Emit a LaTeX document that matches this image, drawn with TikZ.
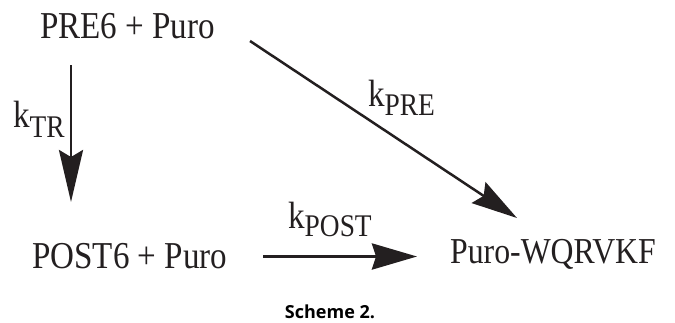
\documentclass[tikz,border=0pt]{standalone}
\usepackage{fontspec}
\setmainfont{Liberation Serif}
\newfontfamily\chemfont[FakeStretch=0.87]{Liberation Serif}
\newfontfamily\capfont{Open Sans}
\usetikzlibrary{arrows.meta}
\definecolor{ink}{RGB}{35,31,32}

% rate constant k with a lowered, slightly smaller subscript
\newcommand\krate[2][9pt]{k\raisebox{-#1}{\fontsize{31.5}{34}\selectfont #2}}

\begin{document}
\begin{tikzpicture}[x=1pt,y=-1pt,
  species/.style={inner sep=0pt, anchor=base west, text=ink,
    font=\chemfont\fontsize{38}{40}\selectfont},
  ratelabel/.style={inner sep=0pt, anchor=base west, text=ink,
    font=\chemfont\fontsize{38}{40}\selectfont},
  reaction/.style={draw=ink, line width=2.8pt,
    -{Stealth[length=52pt,width=24pt,inset=7pt]}},
  caption/.style={inner sep=0pt, anchor=base, text=black,
    font=\capfont\bfseries\fontsize{18}{20}\selectfont},
]
\useasboundingbox (0,0) rectangle (675,322);

% species
\node[species] (pre)  at (40,38)  {PRE6 + Puro};
\node[species] (post) at (32,268) {POST6 + Puro};
\node[species, font=\chemfont\fontsize{36.5}{38}\selectfont] (prod) at (450,263) {Puro-WQRVKF};

% arrow end points
\coordinate (tr-start)   at (71,65);
\coordinate (tr-end)     at (71,202);
\coordinate (pre-start)  at (250,41);
\coordinate (pre-end)    at (517,218);
\coordinate (post-start) at (263,256.5);
\coordinate (post-end)   at (417,256.5);

% reactions
\draw[reaction] (tr-start) -- (tr-end);
\draw[reaction, line width=2.5pt,
  -{Stealth[length=46pt,width=25pt,inset=6pt]}] (pre-start) -- (pre-end);
\draw[reaction, line width=3.3pt,
  -{Stealth[length=45pt,width=26pt,inset=4pt]}] (post-start) -- (post-end);

% rate constants
\node[ratelabel] (ktr)   at (13,127)  {\krate[10pt]{TR}};
\node[ratelabel] (kpre)  at (368,106) {\krate{PRE}};
\node[ratelabel] (kpost) at (288,228) {\krate[8pt]{POST}};

% caption
\node[caption] (cap) at (330,318) {Scheme 2.};
\end{tikzpicture}
\end{document}
